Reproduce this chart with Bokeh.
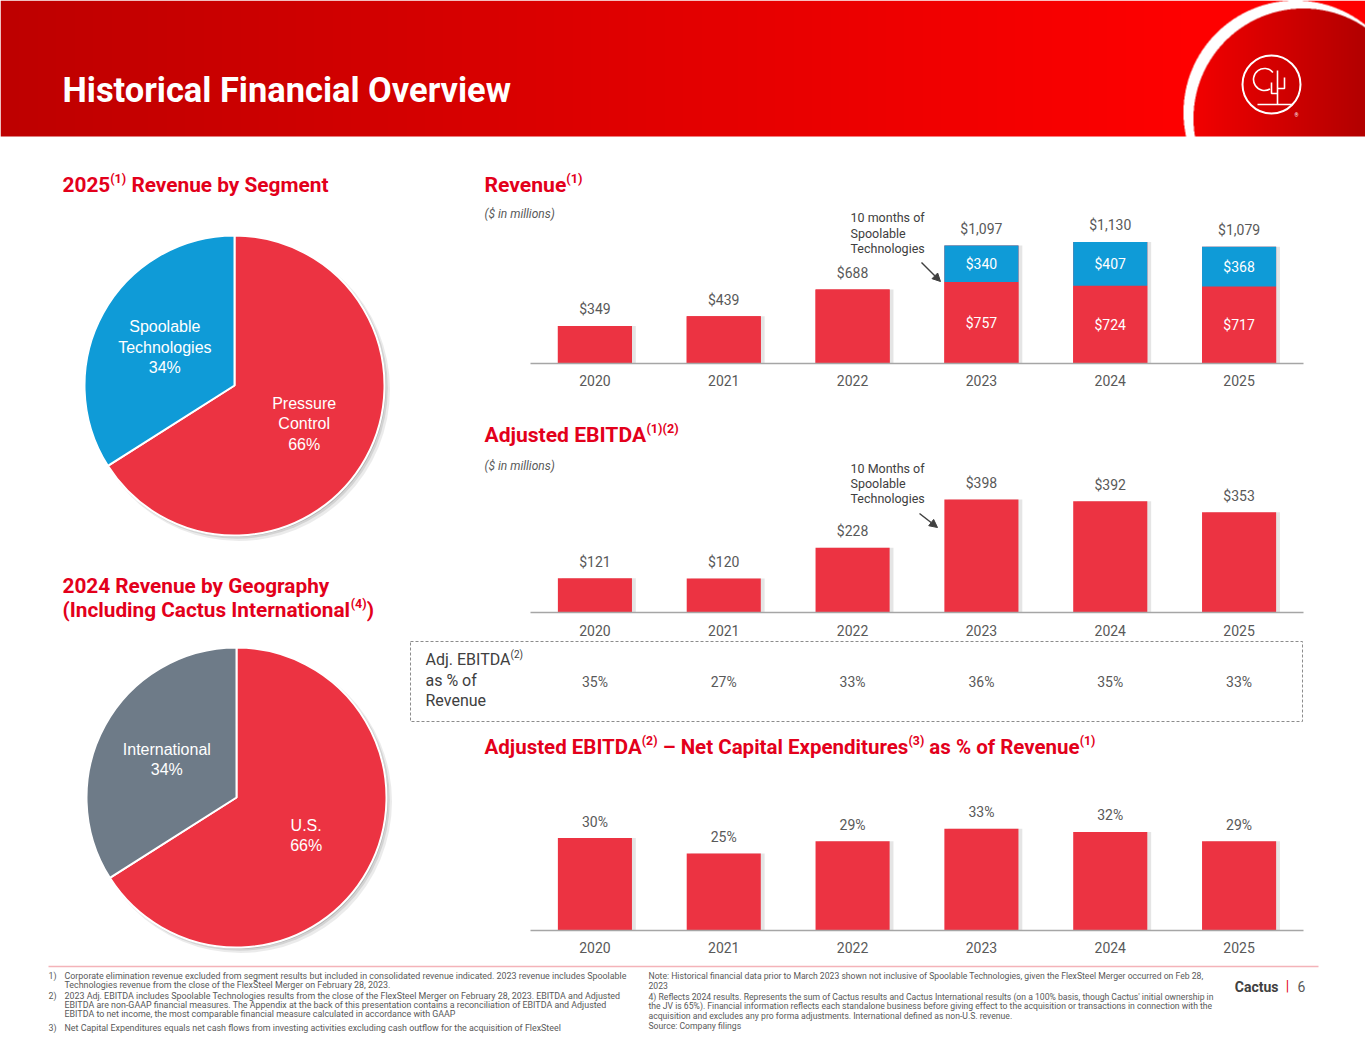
import os
import glob
import numpy as np
from bokeh.plotting import figure
from bokeh.models import Range1d, ColumnDataSource, Label, LabelSet, Arrow, NormalHead
from bokeh.transform import dodge
from bokeh.core.properties import value
from bokeh.embed import file_html
from bokeh.resources import INLINE

# ---------------- data ----------------
years = ["2020", "2021", "2022", "2023", "2024", "2025"]
rev_pressure = [349, 439, 688, 757, 724, 717]
rev_spoolable = [0, 0, 0, 340, 407, 368]
rev_total = [349, 439, 688, 1097, 1130, 1079]
adj_ebitda = [121, 120, 228, 398, 392, 353]
ebitda_margin = [35, 27, 33, 36, 35, 33]
capex_margin = [30, 25, 29, 33, 32, 29]
seg_labels = ["Pressure\nControl", "Spoolable\nTechnologies"]
seg_pct = [66, 34]
geo_labels = ["U.S.", "International"]
geo_pct = [66, 34]

# ---------------- style ----------------
RED = "#EC3342"
BLUE = "#0F9BD7"
SLATE = "#6E7B88"
TRED = "#E3001B"
GRAY = "#595959"
DARK = "#404040"
AXIS = "#A6A6A6"
FONT = "Roboto"
ARIAL = "Liberation Sans"
W, H = 1365, 1055

_cache = {}


def find_file(name):
    if name in _cache:
        return _cache[name]
    path = None
    for root in ("/usr/share/fonts", "/usr/local/share/fonts"):
        hits = sorted(glob.glob(os.path.join(root, "**", name), recursive=True))
        if hits:
            path = hits[0]
            break
    _cache[name] = path
    return path


def tw(s, size, bold=True, fname=None):
    path = find_file(fname or ("Roboto-Bold.ttf" if bold else "Roboto-Regular.ttf"))
    if path:
        try:
            from PIL import ImageFont
            return ImageFont.truetype(path, int(round(size * 10))).getlength(s) / 10.0
        except Exception:
            pass
    return len(s) * size * (0.56 if bold else 0.52)


def fit_size(text, target, bold, base=20.0, fname=None):
    return base * target / tw(text, base, bold, fname)


# footnote font: a narrow face if the system has one, else Roboto
if find_file("LiberationSansNarrow-Regular.ttf"):
    NOTE_FONT, NOTE_FILE = "Liberation Sans Narrow", "LiberationSansNarrow-Regular.ttf"
else:
    NOTE_FONT, NOTE_FILE = FONT, "Roboto-Regular.ttf"

# ---------------- canvas ----------------
p = figure(width=W, height=H, x_range=Range1d(0, W), y_range=Range1d(-H, 0),
           x_axis_location=None, y_axis_location=None, tools="",
           toolbar_location=None, output_backend="svg")
p.min_border = 0
p.outline_line_color = None
p.background_fill_color = "white"
p.border_fill_color = "white"
for g in p.grid:
    g.visible = False

# bar-chart scales (category units across, value units up)
FL, FR = 530, 1303
CATW = (FR - FL) / len(years)
p.extra_x_ranges = {"cat": Range1d(-FL / CATW, (W - FL) / CATW)}
charts = {"rev": (363, 0.1075), "ebt": (612, 0.284), "cap": (930, 3.08)}
p.extra_y_ranges = {k: Range1d((b - H) / s, b / s) for k, (b, s) in charts.items()}
pos = [i + 0.5 for i in range(len(years))]


def put(X, Y, text, size, color, bold=False, italic=False, align="left",
        baseline="middle", font=FONT):
    style = "bold" if bold else ("italic" if italic else "normal")
    p.add_layout(Label(x=X, y=-Y, text=text, text_font=font,
                       text_font_size=f"{size:.2f}px", text_font_style=style,
                       text_color=color, text_align=align, text_baseline=baseline))


def rich(X, Y, pieces, target, color, bold=True, base=20.0):
    def total(sz):
        return sum(tw(t, sz * (0.6 if sup else 1.0), bold) for t, sup in pieces)
    size = base * target / total(base)
    x = X
    for t, sup in pieces:
        s = size * 0.6 if sup else size
        lead = len(t) - len(t.lstrip(" "))
        x += tw(" " * lead, s, bold) if lead else 0
        put(x, Y - (0.27 * size if sup else 0), t.strip(" "), s, color, bold=bold)
        x += tw(t.strip(" "), s, bold)
        trail = len(t) - len(t.rstrip(" "))
        x += tw(" " * trail, s, bold) if trail else 0
    return size


def arrow(X0, Y0, X1, Y1):
    p.add_layout(Arrow(x_start=X0, y_start=-Y0, x_end=X1, y_end=-Y1,
                       end=NormalHead(size=8, fill_color=DARK, line_color=DARK, line_width=1),
                       line_color=DARK, line_width=1.5))


def bars(src, top, yr, bottom=0, color=RED, shadow=True):
    if shadow:
        p.vbar(x=dodge("pos", 0.03), top=top, bottom=bottom, width=0.575, source=src,
               x_range_name="cat", y_range_name=yr, fill_color="#000000",
               fill_alpha=0.10, line_color=None)
    p.vbar(x="pos", top=top, bottom=bottom, width=0.575, source=src,
           x_range_name="cat", y_range_name=yr, fill_color=color, line_color=None)


def labels(src, y, text, yr, offset, color=GRAY, size="14px"):
    p.add_layout(LabelSet(x="pos", y=y, text=text, source=src, y_offset=offset,
                          x_range_name="cat", y_range_name=yr,
                          text_align="center", text_baseline="middle",
                          text_font=value(FONT), text_font_size=value(size),
                          text_color=color))


def axis_row(Ybase, Ylabel):
    p.segment(x0=0, x1=len(years), y0=-Ybase, y1=-Ybase, x_range_name="cat",
              line_color=AXIS, line_width=1.5)
    ysrc = ColumnDataSource(dict(pos=pos, years=years))
    p.text(x="pos", y=-Ylabel, text="years", source=ysrc, x_range_name="cat",
           text_align="center", text_baseline="middle", text_font=value(FONT),
           text_font_size="14px", text_color=GRAY)


# ---------------- header ----------------
S = 2
HH = 136
xs = (np.arange(W * S) + 0.5) / S
ys = (np.arange(HH * S) + 0.5) / S
XX, YY = np.meshgrid(xs, ys)
img = np.zeros((HH * S, W * S, 3))
img[..., 0] = 190 + 64 * np.clip(XX / 1180.0, 0, 1)
outer = (XX - 1295) ** 2 + (YY - 112) ** 2 <= 112 ** 2
inner = (XX - 1303) ** 2 + (YY - 118) ** 2 <= 110 ** 2
img[outer & ~inner] = 255
inner_r = 242 - 62 * np.clip((XX - 1195) / 165.0, 0, 1)
img[inner, 0] = inner_r[inner]
img[inner, 1] = 0
img[inner, 2] = 0
img = img.reshape(HH, S, W, S, 3).mean(axis=(1, 3))
rgba = np.dstack([img, np.full((HH, W), 255.0)]).astype(np.uint8)[::-1].copy()
packed = rgba.view(np.uint32).reshape(HH, W)
p.image_rgba(image=[packed], x=0, y=-HH, dw=W, dh=HH)
p.circle(x=1271, y=-84, radius=29, fill_color=None, line_color="white", line_width=2)
p.arc(x=1264, y=-79, radius=11, start_angle=np.radians(40), end_angle=np.radians(300),
      line_color="white", line_width=1.6)
p.multi_line(xs=[[1277, 1277], [1271, 1271, 1277], [1284, 1284, 1277], [1257, 1292]],
             ys=[[-70, -104], [-82, -93, -93], [-77, -88, -88], [-104, -104]],
             line_color="white", line_width=1.6)
put(1296, 114, "®", 5, "white", align="center")
put(62, 89, "Historical Financial Overview",
    fit_size("Historical Financial Overview", 449, True), "white", bold=True)


# ---------------- pies ----------------
def pie(cx, cy, r, names, pcts, colors):
    fr = np.array(pcts, dtype=float) / sum(pcts)
    cum = np.concatenate([[0.0], np.cumsum(fr)])
    start = np.pi / 2 - cum[1:] * 2 * np.pi
    end = np.pi / 2 - cum[:-1] * 2 * np.pi
    mid = (start + end) / 2
    for dx, dr, a in ((4, 1.5, 0.08), (2.5, 0.8, 0.10), (1.2, 0.3, 0.14)):
        p.circle(x=cx + dx, y=-(cy + dx), radius=r + dr, fill_color="#000000",
                 fill_alpha=a, line_color=None)
    src = ColumnDataSource(dict(start=start, end=end, color=colors,
                                lx=cx + 0.53 * r * np.cos(mid),
                                ly=-cy + 0.53 * r * np.sin(mid),
                                txt=[f"{n}\n{v}%" for n, v in zip(names, pcts)]))
    p.wedge(x=cx, y=-cy, radius=r, start_angle="start", end_angle="end", source=src,
            fill_color="color", line_color="white", line_width=2)
    p.text(x="lx", y="ly", text="txt", source=src, text_color="white",
           text_font=value(ARIAL), text_font_size="16px", text_align="center",
           text_baseline="middle", text_line_height=1.2)


rich(62, 184, [("2025", False), ("(1)", True), (" Revenue by Segment", False)], 266, TRED)
pie(234, 385, 150, seg_labels, seg_pct, [RED, BLUE])

put(62, 585, "2024 Revenue by Geography", fit_size("2024 Revenue by Geography", 267, True),
    TRED, bold=True)
rich(62, 609, [("(Including Cactus International", False), ("(4)", True), (")", False)],
     311, TRED)
pie(236, 797, 150, geo_labels, geo_pct, [RED, SLATE])

# ---------------- revenue ----------------
stack_top = [a + b for a, b in zip(rev_pressure, rev_spoolable)]
rsrc = ColumnDataSource(dict(pos=pos, pressure=rev_pressure, stack_top=stack_top,
                             total_lbl=[f"${v:,}" for v in rev_total]))
bars(rsrc, "stack_top", "rev")
p.vbar(x="pos", top="pressure", width=0.575, source=rsrc, x_range_name="cat",
       y_range_name="rev", fill_color=RED, line_color=None)
p.vbar(x="pos", bottom="pressure", top="stack_top", width=0.575, source=rsrc,
       x_range_name="cat", y_range_name="rev", fill_color=BLUE, line_color=None)
idx = [i for i, v in enumerate(rev_spoolable) if v > 0]
isrc = ColumnDataSource(dict(
    pos=[pos[i] for i in idx],
    pmid=[rev_pressure[i] / 2 for i in idx],
    smid=[rev_pressure[i] + rev_spoolable[i] / 2 for i in idx],
    plbl=[f"${rev_pressure[i]:,}" for i in idx],
    slbl=[f"${rev_spoolable[i]:,}" for i in idx]))
labels(rsrc, "stack_top", "total_lbl", "rev", 16.5)
labels(isrc, "pmid", "plbl", "rev", 0, color="white")
labels(isrc, "smid", "slbl", "rev", 0, color="white")
axis_row(363, 380)
rich(484, 184, [("Revenue", False), ("(1)", True)], 98, TRED)
put(484, 213, "($ in millions)", 12, GRAY, italic=True)
for k, t in enumerate(["10 months of", "Spoolable", "Technologies"]):
    put(850, 217 + 15.5 * k, t, 12.5, DARK)
arrow(921, 262, 940, 281)

# ---------------- adjusted EBITDA ----------------
esrc = ColumnDataSource(dict(pos=pos, v=adj_ebitda, lbl=[f"${v:,}" for v in adj_ebitda]))
bars(esrc, "v", "ebt")
labels(esrc, "v", "lbl", "ebt", 16.5)
axis_row(612, 630)
rich(484, 434, [("Adjusted EBITDA", False), ("(1)(2)", True)], 194, TRED)
put(484, 465, "($ in millions)", 12, GRAY, italic=True)
for k, t in enumerate(["10 Months of", "Spoolable", "Technologies"]):
    put(850, 468 + 15 * k, t, 12.5, DARK)
arrow(919, 513, 937, 527)

# ---------------- EBITDA margin row ----------------
msrc = ColumnDataSource(dict(pos=pos, lbl=[f"{v}%" for v in ebitda_margin]))
p.text(x="pos", y=-681, text="lbl", source=msrc, x_range_name="cat", text_align="center",
       text_baseline="middle", text_font=value(FONT), text_font_size="14px",
       text_color=GRAY)
p.quad(left=410, right=1302, top=-641, bottom=-721, fill_color=None,
       line_color="#8C8C8C", line_dash="3 2", line_width=1)
put(425, 659, "Adj. EBITDA", 16, DARK)
put(425 + tw("Adj. EBITDA", 16, False), 654, "(2)", 10, DARK)
put(425, 680, "as % of", 16, DARK)
put(425, 700, "Revenue", 16, DARK)

# ---------------- capex margin ----------------
csrc = ColumnDataSource(dict(pos=pos, v=capex_margin, lbl=[f"{v}%" for v in capex_margin]))
bars(csrc, "v", "cap")
labels(csrc, "v", "lbl", "cap", 16.5)
axis_row(930, 947)
rich(484, 746, [("Adjusted EBITDA", False), ("(2)", True),
                (" \u2013 Net Capital Expenditures", False), ("(3)", True),
                (" as % of Revenue", False), ("(1)", True)], 611, TRED)

# ---------------- footer ----------------
p.line(x=[48, 1318], y=[-966, -966], line_color="#F4B3B9", line_width=1.5)
left_notes = [
    ("1)", "Corporate elimination revenue excluded from segment results but included in consolidated revenue indicated. 2023 revenue includes Spoolable", 975.5),
    ("", "Technologies revenue from the close of the FlexSteel Merger on February 28, 2023.", 984.5),
    ("2)", "2023 Adj. EBITDA includes Spoolable Technologies results from the close of the FlexSteel Merger on February 28, 2023. EBITDA and Adjusted", 995),
    ("", "EBITDA are non-GAAP financial measures. The Appendix at the back of this presentation contains a reconciliation of EBITDA and Adjusted", 1004),
    ("", "EBITDA to net income, the most comparable financial measure calculated in accordance with GAAP", 1013),
    ("3)", "Net Capital Expenditures equals net cash flows from investing activities excluding cash outflow for the acquisition of FlexSteel", 1027),
]
right_notes = [
    ("Note: Historical financial data prior to March 2023 shown not inclusive of Spoolable Technologies, given the FlexSteel Merger occurred on Feb 28,", 975.5),
    ("2023", 984.5),
    ("4) Reflects 2024 results.  Represents the sum of Cactus results and Cactus International results (on a 100% basis, though Cactus' initial ownership in", 996),
    ("the JV is 65%). Financial information reflects each standalone business before giving effect to the acquisition or transactions in connection with the", 1005.5),
    ("acquisition and excludes any pro forma adjustments.  International defined as non-U.S. revenue.", 1015),
    ("Source: Company filings", 1025),
]
ls = fit_size(left_notes[0][1], 563, False, base=9.0, fname=NOTE_FILE)
rs = fit_size(right_notes[0][0], 555, False, base=9.0, fname=NOTE_FILE)
for num, t, y in left_notes:
    if num:
        put(48, y, num, ls, GRAY, font=NOTE_FONT)
    put(64, y, t, ls, GRAY, font=NOTE_FONT)
for t, y in right_notes:
    put(648, y, t, rs, GRAY, font=NOTE_FONT)
put(1278, 986, "Cactus", 14, DARK, bold=True, align="right")
put(1287, 985, "|", 14, TRED, align="center")
put(1297, 986, "6", 14, GRAY, align="left")

open("out.html", "w").write(file_html(p, INLINE))
